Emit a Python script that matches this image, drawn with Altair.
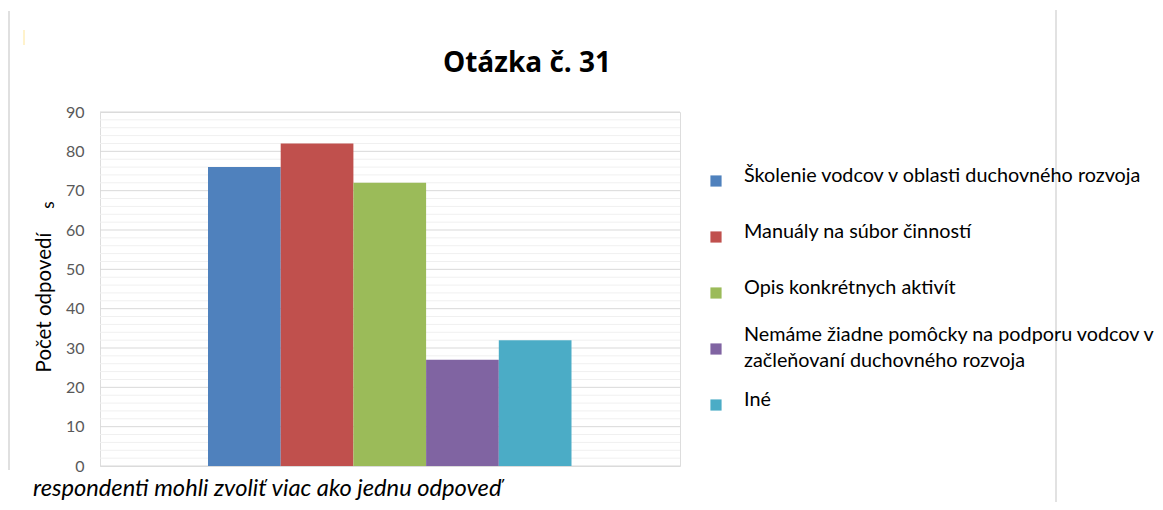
import altair as alt
import pandas as pd

categories = [
    "Školenie vodcov v oblasti duchovného rozvoja",
    "Manuály na súbor činností",
    "Opis konkrétnych aktivít",
    "Nemáme žiadne pomôcky na podporu vodcov v\nzačleňovaní duchovného rozvoja",
    "Iné",
]
values = [76, 82, 72, 27, 32]
colors = ["#4F81BD", "#C0504D", "#9BBB59", "#8064A2", "#4BACC6"]
major_ticks = [0, 10, 20, 30, 40, 50, 60, 70, 80, 90]
minor_ticks = [v for v in range(2, 90, 2) if v % 10 != 0]

title_text = "Otázka č. 31"
y_title = "Počet odpovedí"
footnote = "respondenti mohli zvoliť viac ako jednu odpoveď"

FONT = "Lato"
W, H = 580, 354

df = pd.DataFrame({"cat": categories, "val": values})
minor_df = pd.DataFrame({"v": minor_ticks})
major_df = pd.DataFrame({"v": major_ticks})
note_df = pd.DataFrame({"t": [footnote]})
title_df = pd.DataFrame({"t": [title_text]})

yscale = alt.Scale(domain=[0, 90], nice=False, zero=True)
cscale = alt.Scale(domain=categories, range=colors)

minor = alt.Chart(minor_df).mark_rule(color="#f0f0f0", strokeWidth=1).encode(
    y=alt.Y("v:Q", scale=yscale, axis=None)
)
major = alt.Chart(major_df).mark_rule(color="#d9d9d9", strokeWidth=1).encode(
    y=alt.Y("v:Q", scale=yscale, axis=None)
)

bars = alt.Chart(df).mark_bar().encode(
    x=alt.X("cat:N", sort=categories,
            scale=alt.Scale(domain=categories, paddingInner=0, paddingOuter=0,
                            range=[108, 471.5]),
            axis=None),
    y=alt.Y("val:Q", scale=yscale,
            axis=alt.Axis(values=major_ticks, title=y_title, grid=False,
                          domain=False, ticks=False,
                          labelFontSize=16, labelColor="#595959", labelFont=FONT,
                          labelPadding=16,
                          titleFont=FONT, titleFontSize=20.5, titleFontWeight="normal",
                          titleColor="#000000", titleAngle=270, titleX=-56, titleY=190,
                          titleAlign="center", titleBaseline="middle")),
    color=alt.Color("cat:N", scale=cscale, legend=None),
)

leg_y = alt.Y("cat:N", sort=categories,
              scale=alt.Scale(domain=categories, range=[69, 293], padding=0),
              axis=None)

leg_sym = alt.Chart(df).mark_square(size=125, opacity=1).encode(
    x=alt.value(616),
    y=leg_y,
    color=alt.Color("cat:N", scale=cscale, legend=None),
)

leg_txt1 = alt.Chart(df).transform_filter(
    "indexof(datum.cat, '\\n') < 0"
).mark_text(
    align="left", baseline="middle", font=FONT, fontSize=19.8, color="#000000",
    dy=-5
).encode(x=alt.value(644), y=leg_y, text="cat:N")

leg_txt2 = alt.Chart(df).transform_filter(
    "indexof(datum.cat, '\\n') >= 0"
).mark_text(
    align="left", baseline="middle", font=FONT, fontSize=19.8, color="#000000",
    lineBreak="\n", lineHeight=25.5, dy=-14
).encode(x=alt.value(644), y=leg_y, text="cat:N")

title = alt.Chart(title_df).mark_text(
    align="center", baseline="alphabetic", font="Open Sans", fontSize=28,
    fontWeight="bold", color="#000000"
).encode(x=alt.value(427), y=alt.value(-40), text="t:N")

note = alt.Chart(note_df).mark_text(
    align="left", baseline="alphabetic", font=FONT, fontSize=23.7,
    fontStyle="italic", color="#000000"
).encode(x=alt.value(-67), y=alt.value(384), text="t:N")

stray = alt.Chart(pd.DataFrame({"t": ["s"]})).mark_text(
    align="center", baseline="middle", font=FONT, fontSize=17, angle=270,
    color="#000000"
).encode(x=alt.value(-51), y=alt.value(93), text="t:N")

left_line = alt.Chart(note_df).mark_rule(color="#e0e0e0", strokeWidth=2).encode(
    x=alt.value(-91), y=alt.value(-101), y2=alt.value(358))
right_line = alt.Chart(note_df).mark_rule(color="#d9d9d9", strokeWidth=1.5).encode(
    x=alt.value(956), y=alt.value(-102), y2=alt.value(390))
yellow_line = alt.Chart(note_df).mark_rule(color="#ffe699", strokeWidth=1).encode(
    x=alt.value(-76), y=alt.value(-82), y2=alt.value(-67))

chart = alt.layer(
    left_line, right_line, yellow_line, minor, major, bars, leg_sym,
    leg_txt1, leg_txt2, title, note, stray
).resolve_scale(y="independent").properties(
    width=W, height=H,
    autosize=alt.AutoSizeParams(type="none"),
    padding={"left": 92, "top": 104, "right": 475, "bottom": 36},
).configure_view(stroke=None).configure(background="white")

chart.save("out.html", embed_options={"renderer": "svg", "actions": False})
